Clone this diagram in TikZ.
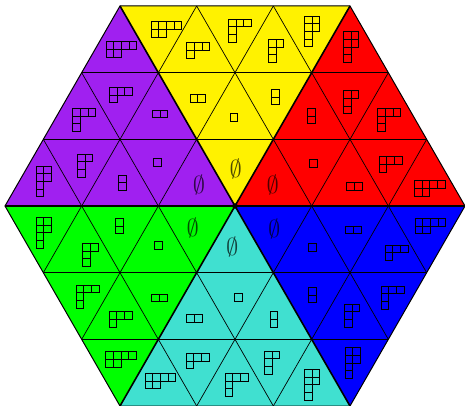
\documentclass[tikz,border=0pt]{standalone}
\usepackage{amsmath, amssymb}
\usepackage{color}
\definecolor{ypurple}{RGB}{160,32,240}
\definecolor{yturq}{RGB}{64,224,208}
\tikzset{
  cut/.style={draw=black, line width=0.7pt},
  wall/.style={draw=black, line width=1.6pt},
  rim/.style={draw=black, line width=1pt},
  cell/.style={draw=black, line width=0.9pt},
  nullset/.style={scale=2.45, inner sep=0pt, text opacity=0.7}
}
\newcommand{\ydiag}[3]{%
  \foreach \yl [count=\yr] in {#3}
    \foreach \yc in {1,...,\yl}
      \draw[cell] ({#1+(\yc-1)*7.7},{#2+(\yr-1)*7.7}) rectangle ++(7.7,7.7);
}

\begin{document}
\begin{tikzpicture}[x=1pt, y=-1pt]
            \useasboundingbox (0,0) rectangle (465,406);

            \fill[yellow] (235,206) -- (120,6) -- (350,6) -- cycle;
            \fill[red] (235,206) -- (350,6) -- (465,206) -- cycle;
            \fill[blue] (235,206) -- (465,206) -- (350,406) -- cycle;
            \fill[yturq] (235,206) -- (350,406) -- (120,406) -- cycle;
            \fill[green] (235,206) -- (120,406) -- (5,206) -- cycle;
            \fill[ypurple] (235,206) -- (5,206) -- (120,6) -- cycle;

            \draw[cut] (81.67,72.67) -- (388.33,72.67);
            \draw[cut] (43.33,139.33) -- (426.67,139.33);
            \draw[cut] (43.33,272.67) -- (426.67,272.67);
            \draw[cut] (81.67,339.33) -- (388.33,339.33);
            \draw[cut] (43.33,272.67) -- (196.67,6);
            \draw[cut] (81.67,339.33) -- (273.33,6);
            \draw[cut] (196.67,406) -- (388.33,72.67);
            \draw[cut] (273.33,406) -- (426.67,139.33);
            \draw[cut] (273.33,6) -- (426.67,272.67);
            \draw[cut] (196.67,6) -- (388.33,339.33);
            \draw[cut] (81.67,72.67) -- (273.33,406);
            \draw[cut] (43.33,139.33) -- (196.67,406);

            \draw[wall] (5,206) -- (465,206);
            \draw[wall] (120,406) -- (350,6);
            \draw[wall] (120,6) -- (350,406);
            \draw[rim] (120,6) -- (350,6) -- (465,206) -- (350,406) -- (120,406) -- (5,206) -- cycle;
            \fill (235,206) circle (2.8);

            \node (Y0) at (235.7,169.3) [nullset] {$\emptyset$};
            \node (R0) at (272.7,185) [nullset] {$\emptyset$};
            \node (P0) at (199,185) [nullset] {$\emptyset$};
            \node (G0) at (192.7,228.3) [nullset] {$\emptyset$};
            \node (C0) at (232.3,246.7) [nullset] {$\emptyset$};
            \node (B0) at (274.3,229.3) [nullset] {$\emptyset$};

            \ydiag{151}{21.7}{4,2}
            \ydiag{186.7}{42.7}{3,1}
            \ydiag{228.3}{19}{3,1,1}
            \ydiag{268.3}{39.3}{2,1,1}
            \ydiag{304.3}{16}{2,2,1,1}
            \ydiag{190}{94.3}{2}
            \ydiag{230}{113.3}{1}
            \ydiag{271.7}{89.3}{1,1}

            \ydiag{343.3}{31.7}{2,2,1,1}
            \ydiag{343.3}{90.7}{2,1,1}
            \ydiag{307.3}{108.3}{1,1}
            \ydiag{377.7}{108.3}{3,1,1}
            \ydiag{309.3}{159.3}{1}
            \ydiag{379}{156.7}{3,1}
            \ydiag{346.7}{182.7}{2}
            \ydiag{414.3}{180.7}{4,2}

            \ydiag{106}{41.7}{4,2}
            \ydiag{109.3}{87.3}{3,1}
            \ydiag{72.7}{108.3}{3,1,1}
            \ydiag{152.3}{110}{2}
            \ydiag{36}{166}{2,2,1,1}
            \ydiag{77.3}{154}{2,1,1}
            \ydiag{118.3}{175}{1,1}
            \ydiag{153.3}{158.3}{1}

            \ydiag{36}{217.3}{2,2,1,1}
            \ydiag{115.7}{218.3}{1,1}
            \ydiag{82.7}{243.3}{2,1,1}
            \ydiag{154.3}{241.7}{1}
            \ydiag{76}{285}{3,1,1}
            \ydiag{151.7}{294}{2}
            \ydiag{109}{311.7}{3,1}
            \ydiag{105.7}{351.7}{4,2}

            \ydiag{234.3}{293.3}{1}
            \ydiag{186.7}{314.3}{2}
            \ydiag{270}{311.7}{1,1}
            \ydiag{186}{353.3}{3,1}
            \ydiag{145}{373.3}{4,2}
            \ydiag{225}{373.3}{3,1,1}
            \ydiag{264.3}{351}{2,1,1}
            \ydiag{304.3}{369.3}{2,2,1,1}

            \ydiag{345.7}{226}{2}
            \ydiag{415}{218.3}{4,2}
            \ydiag{308.3}{243.3}{1}
            \ydiag{385}{245}{3,1}
            \ydiag{308.3}{287.3}{1,1}
            \ydiag{381}{286}{3,1,1}
            \ydiag{344.3}{304}{2,1,1}
            \ydiag{345}{347.7}{2,2,1,1}
        \end{tikzpicture}
\end{document}
